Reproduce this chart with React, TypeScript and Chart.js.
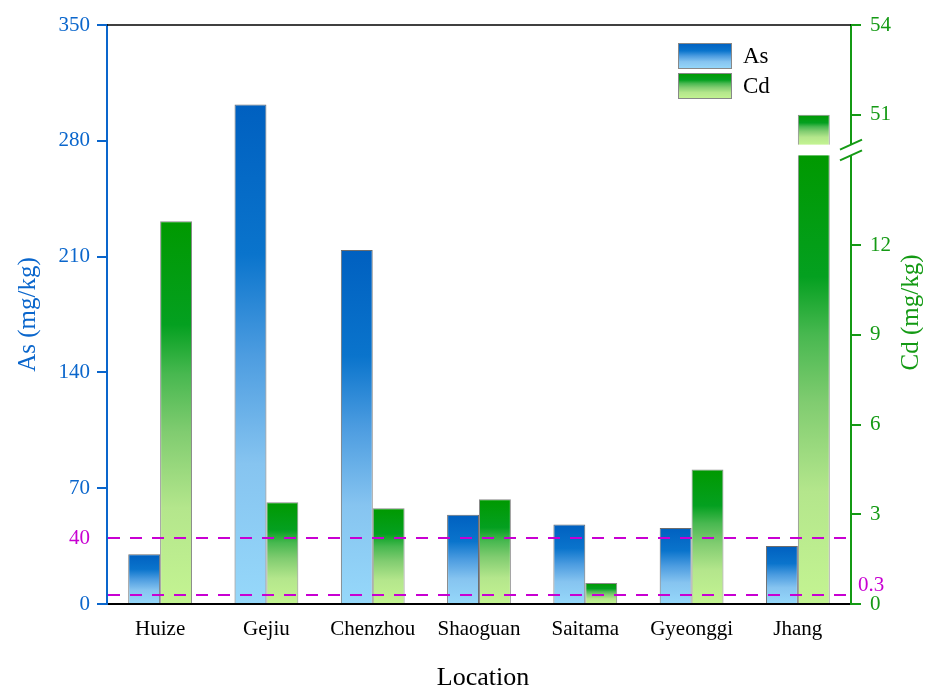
import React, { useEffect, useRef } from 'react';
import { Chart, registerables } from 'chart.js';
Chart.register(...registerables);

const categories = ['Huize', 'Gejiu', 'Chenzhou', 'Shaoguan', 'Saitama', 'Gyeonggi', 'Jhang'];
const asValues = [30, 302, 214, 54, 48, 46, 35];
const cdValues = [12.8, 3.4, 3.2, 3.5, 0.7, 4.5, 51];
const asTicks = [0, 70, 140, 210, 280, 350];
const cdTicks = [0, 3, 6, 9, 12, 51, 54];
const cdBreakLow = 15;
const cdBreakHigh = 50;
const cdBreakGap = 0.36;
const cdMax = 54;
const asLimit = 40;
const cdLimit = 0.3;

const SERIF = "'Liberation Serif', 'Times New Roman', serif";
const BLUE = '#0a66cc';
const GREEN = '#149a14';
const MAGENTA = '#c800d2';

const AS_STOPS: [number, string][] = [[0, '#0060c0'], [0.3, '#0a74cc'], [0.5, '#4c9ce0'], [0.72, '#86c4f0'], [1, '#96d8fa']];
const CD_STOPS: [number, string][] = [[0, '#009900'], [0.27, '#04a020'], [0.4, '#48b850'], [0.55, '#80cc70'], [0.75, '#b4e68c'], [1, '#c4f492']];

const toDisp = (v: number) => (v <= cdBreakLow ? v : v - cdBreakHigh + cdBreakLow + cdBreakGap);

function makeGrad(ctx: CanvasRenderingContext2D, pieces: [number, number][], stops: [number, string][]) {
  const top = pieces[0][0];
  const bottom = pieces[pieces.length - 1][1];
  const H = bottom - top || 1;
  const g = ctx.createLinearGradient(0, top, 0, bottom);
  for (const [t, b] of pieces) {
    for (const [f, c] of stops) {
      const o = Math.min(1, Math.max(0, (t + f * (b - t) - top) / H));
      g.addColorStop(o, c);
    }
  }
  return g;
}

const decoPlugin = {
  id: 'deco',
  afterDatasetsDraw(chart: any) {
    const { ctx, chartArea, scales } = chart;
    const y = scales.y;
    const y2 = scales.y2;
    const meta = chart.getDatasetMeta(1);
    const yHi = y2.getPixelForValue(cdBreakLow + cdBreakGap);
    const yLo = y2.getPixelForValue(cdBreakLow);
    ctx.save();
    cdValues.forEach((v, i) => {
      if (v > cdBreakLow) {
        const el = meta.data[i];
        ctx.fillStyle = '#ffffff';
        ctx.fillRect(el.x - el.width / 2 - 2, yHi, el.width + 4, yLo - yHi);
      }
    });
    ctx.strokeStyle = MAGENTA;
    ctx.lineWidth = 2;
    ctx.setLineDash([12, 10]);
    const ya = Math.round(y.getPixelForValue(asLimit));
    const yc = Math.round(y2.getPixelForValue(cdLimit));
    [ya, yc].forEach((py) => {
      ctx.beginPath();
      ctx.moveTo(chartArea.left + 1, py);
      ctx.lineTo(chartArea.right, py);
      ctx.stroke();
    });
    ctx.setLineDash([]);
    ctx.fillStyle = MAGENTA;
    ctx.font = `21px ${SERIF}`;
    ctx.textAlign = 'right';
    ctx.textBaseline = 'middle';
    ctx.fillText(String(asLimit), chartArea.left - 17, ya);
    ctx.textAlign = 'left';
    ctx.fillText(String(cdLimit), chartArea.right + 7, yc - 10);
    ctx.restore();
  },
  afterDraw(chart: any) {
    const { ctx, chartArea, scales } = chart;
    const y2 = scales.y2;
    ctx.save();
    ctx.strokeStyle = '#000';
    ctx.lineWidth = 1.5;
    ctx.beginPath();
    ctx.moveTo(chartArea.left, chartArea.top);
    ctx.lineTo(chartArea.right, chartArea.top);
    ctx.stroke();
    const yHi = y2.getPixelForValue(cdBreakLow + cdBreakGap);
    const yLo = y2.getPixelForValue(cdBreakLow);
    const ax = chartArea.right;
    ctx.fillStyle = '#fff';
    ctx.fillRect(ax - 3, yHi, 6, yLo - yHi);
    ctx.strokeStyle = GREEN;
    ctx.lineWidth = 2;
    [yHi, yLo].forEach((py) => {
      ctx.beginPath();
      ctx.moveTo(ax - 11, py + 5);
      ctx.lineTo(ax + 11, py - 5);
      ctx.stroke();
    });
    const midY = (chartArea.top + chartArea.bottom) / 2;
    ctx.textAlign = 'center';
    ctx.textBaseline = 'middle';
    ctx.font = `25px ${SERIF}`;
    ctx.fillStyle = BLUE;
    ctx.save();
    ctx.translate(20, midY);
    ctx.rotate(-Math.PI / 2);
    ctx.fillText('As (mg/kg)', 0, 0);
    ctx.restore();
    ctx.fillStyle = GREEN;
    ctx.save();
    ctx.translate(903, midY - 2);
    ctx.rotate(-Math.PI / 2);
    ctx.fillText('Cd (mg/kg)', 0, 0);
    ctx.restore();
    ctx.fillStyle = '#000';
    ctx.font = `26px ${SERIF}`;
    ctx.fillText('Location', (chartArea.left + chartArea.right) / 2 + 4, 670);
    const lx = chartArea.right - 173;
    const items: [string, [number, string][]][] = [
      [chart.data.datasets[0].label, AS_STOPS],
      [chart.data.datasets[1].label, CD_STOPS],
    ];
    items.forEach(([label, stops], i) => {
      const top = chartArea.top + 18 + i * 30;
      const g = makeGrad(ctx, [[top, top + 26]], stops);
      ctx.fillStyle = g;
      ctx.fillRect(lx, top, 54, 26);
      ctx.strokeStyle = '#888';
      ctx.lineWidth = 1;
      ctx.strokeRect(lx + 0.5, top + 0.5, 53, 25);
      ctx.fillStyle = '#000';
      ctx.font = `23px ${SERIF}`;
      ctx.textAlign = 'left';
      ctx.fillText(label, lx + 65, top + 14);
    });
    ctx.restore();
  },
};

export default function App() {
  const ref = useRef<HTMLCanvasElement>(null);
  useEffect(() => {
    if (!ref.current) return;
    const chart = new Chart(ref.current, {
      type: 'bar',
      data: {
        labels: categories,
        datasets: [
          {
            label: 'As',
            data: asValues,
            yAxisID: 'y',
            borderColor: 'rgba(60,60,60,0.75)',
            borderWidth: 1,
            backgroundColor: (c: any) => {
              const chart = c.chart;
              const sc = chart.scales.y;
              if (c.type !== 'data' || !chart.chartArea || !sc) return '#0060c0';
              const v = asValues[c.dataIndex];
              return makeGrad(chart.ctx, [[sc.getPixelForValue(v), sc.getPixelForValue(0)]], AS_STOPS);
            },
          },
          {
            label: 'Cd',
            data: cdValues.map(toDisp),
            yAxisID: 'y2',
            borderColor: 'rgba(90,90,90,0.7)',
            borderWidth: 1,
            backgroundColor: (c: any) => {
              const chart = c.chart;
              const sc = chart.scales.y2;
              if (c.type !== 'data' || !chart.chartArea || !sc) return '#009900';
              const v = cdValues[c.dataIndex];
              const base = sc.getPixelForValue(0);
              let pieces: [number, number][];
              if (v > cdBreakLow) {
                pieces = [
                  [sc.getPixelForValue(toDisp(v)), sc.getPixelForValue(cdBreakLow + cdBreakGap)],
                  [sc.getPixelForValue(cdBreakLow), base],
                ];
              } else {
                pieces = [[sc.getPixelForValue(v), base]];
              }
              return makeGrad(chart.ctx, pieces, CD_STOPS);
            },
          },
        ],
      },
      options: {
        animation: false,
        responsive: true,
        maintainAspectRatio: false,
        layout: { padding: { top: 17, left: 0, right: 0, bottom: 0 } },
        datasets: { bar: { categoryPercentage: 0.6, barPercentage: 1.0 } },
        plugins: { legend: { display: false }, tooltip: { enabled: false } },
        scales: {
          x: {
            grid: { display: false },
            border: { display: true, color: '#000', width: 2 },
            ticks: { color: '#000', font: { family: SERIF, size: 21 }, padding: 5 },
            afterFit: (s: any) => { s.height = 87; s.paddingLeft = 0; s.paddingRight = 0; },
          },
          y: {
            position: 'left',
            min: 0,
            max: asTicks[asTicks.length - 1],
            afterBuildTicks: (s: any) => { s.ticks = asTicks.map((v) => ({ value: v })); },
            ticks: { color: BLUE, font: { family: SERIF, size: 21 }, padding: 7 },
            grid: { drawOnChartArea: false, drawTicks: true, tickLength: 10, color: BLUE, lineWidth: 2 },
            border: { display: true, color: BLUE, width: 2 },
            afterFit: (s: any) => { s.width = 99; s.paddingTop = 0; s.paddingBottom = 0; },
          },
          y2: {
            position: 'right',
            min: 0,
            max: toDisp(cdMax),
            afterBuildTicks: (s: any) => { s.ticks = cdTicks.map((v) => ({ value: toDisp(v) })); },
            ticks: {
              color: GREEN,
              font: { family: SERIF, size: 21 },
              padding: 9,
              callback: (_v: any, i: number) => String(cdTicks[i]),
            },
            grid: { drawOnChartArea: false, drawTicks: true, tickLength: 10, color: GREEN, lineWidth: 2 },
            border: { display: true, color: GREEN, width: 2 },
            afterFit: (s: any) => { s.width = 72; s.paddingTop = 0; s.paddingBottom = 0; },
          },
        },
      },
      plugins: [decoPlugin],
    } as any);
    return () => chart.destroy();
  }, []);
  return (
    <div style={{ width: 915, height: 683, position: 'relative' }}>
      <canvas ref={ref} />
    </div>
  );
}
